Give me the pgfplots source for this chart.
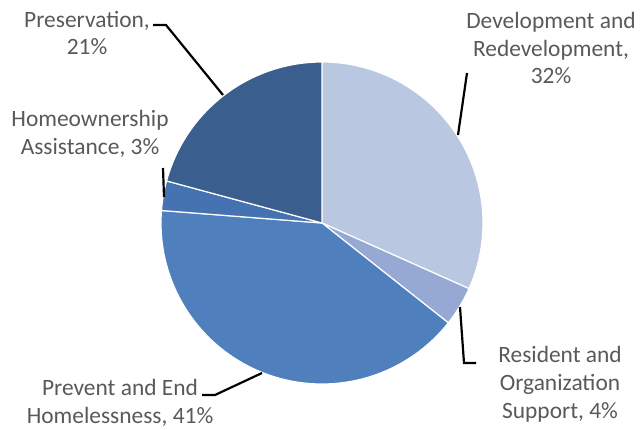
\documentclass[border=0pt]{standalone}
\usepackage{pgfplots}
\usepackage{pgfplotstable}
\usepackage{fontspec}
\setmainfont{Carlito}
\pgfplotsset{compat=1.18}
\definecolor{c0}{HTML}{B9C7E1}
\definecolor{c1}{HTML}{95A9D3}
\definecolor{c2}{HTML}{4F80BD}
\definecolor{c3}{HTML}{4573B1}
\definecolor{c4}{HTML}{3A5F8E}
\definecolor{labelgray}{HTML}{595959}
\pgfplotstableread{
value
32
4
41
3
21
}\piedata
\begin{document}
\def\total{0}%
\pgfplotstableforeachcolumnelement{value}\of\piedata\as\v{\pgfmathparse{\total+\v}\xdef\total{\pgfmathresult}}%
\pgfmathparse{360/\total}\xdef\degper{\pgfmathresult}%
\begin{tikzpicture}
\begin{axis}[hide axis, scale only axis, width=641bp, height=430bp,
  xmin=0, xmax=641, ymin=0, ymax=430, y dir=reverse, clip=false]
\path (rel axis cs:0,0) rectangle (rel axis cs:1,1);
\gdef\cum{0}
\foreach \i in {0,...,4} {
  \pgfplotstablegetelem{\i}{value}\of\piedata
  \let\v\pgfplotsretval
  \pgfmathsetmacro\a{90-\degper*\cum}
  \pgfmathsetmacro\b{90-\degper*(\cum+\v)}
  \edef\doplot{\noexpand\addplot[fill=c\i, draw=white, line width=1.2pt, domain=\b:\a, samples=90, variable=\noexpand\t, no markers]
    ({322+161*cos(\noexpand\t)}, {223-161*sin(\noexpand\t)}) -- (axis cs:322,223) -- cycle;}
  \doplot
  \pgfmathparse{\cum+\v}\xdef\cum{\pgfmathresult}
}
% leader lines
\addplot[black, line width=2.2pt, no markers] coordinates {(153,25) (166,25) (223,95)};
\addplot[black, line width=2.2pt, no markers] coordinates {(163,168) (164,197)};
\addplot[black, line width=2.2pt, no markers] coordinates {(467,73) (458,135)};
\addplot[black, line width=2.2pt, no markers] coordinates {(460,307) (464,363) (476,363)};
\addplot[black, line width=2.2pt, no markers] coordinates {(202,395) (215,395) (262,373)};
% labels
\begin{scope}[every node/.style={align=center, text=labelgray, inner sep=0pt, font=\fontsize{23.5}{28}\selectfont}]
\node at (axis cs:87,33) {Preservation,\\21\%};
\node at (axis cs:90,134) {Homeownership\\Assistance, 3\%};
\node at (axis cs:551,48) {Development and\\Redevelopment,\\32\%};
\node at (axis cs:560,384) {Resident and\\Organization\\Support, 4\%};
\node at (axis cs:120,403) {Prevent and End\\Homelessness, 41\%};
\end{scope}
\end{axis}
\end{tikzpicture}
\end{document}
